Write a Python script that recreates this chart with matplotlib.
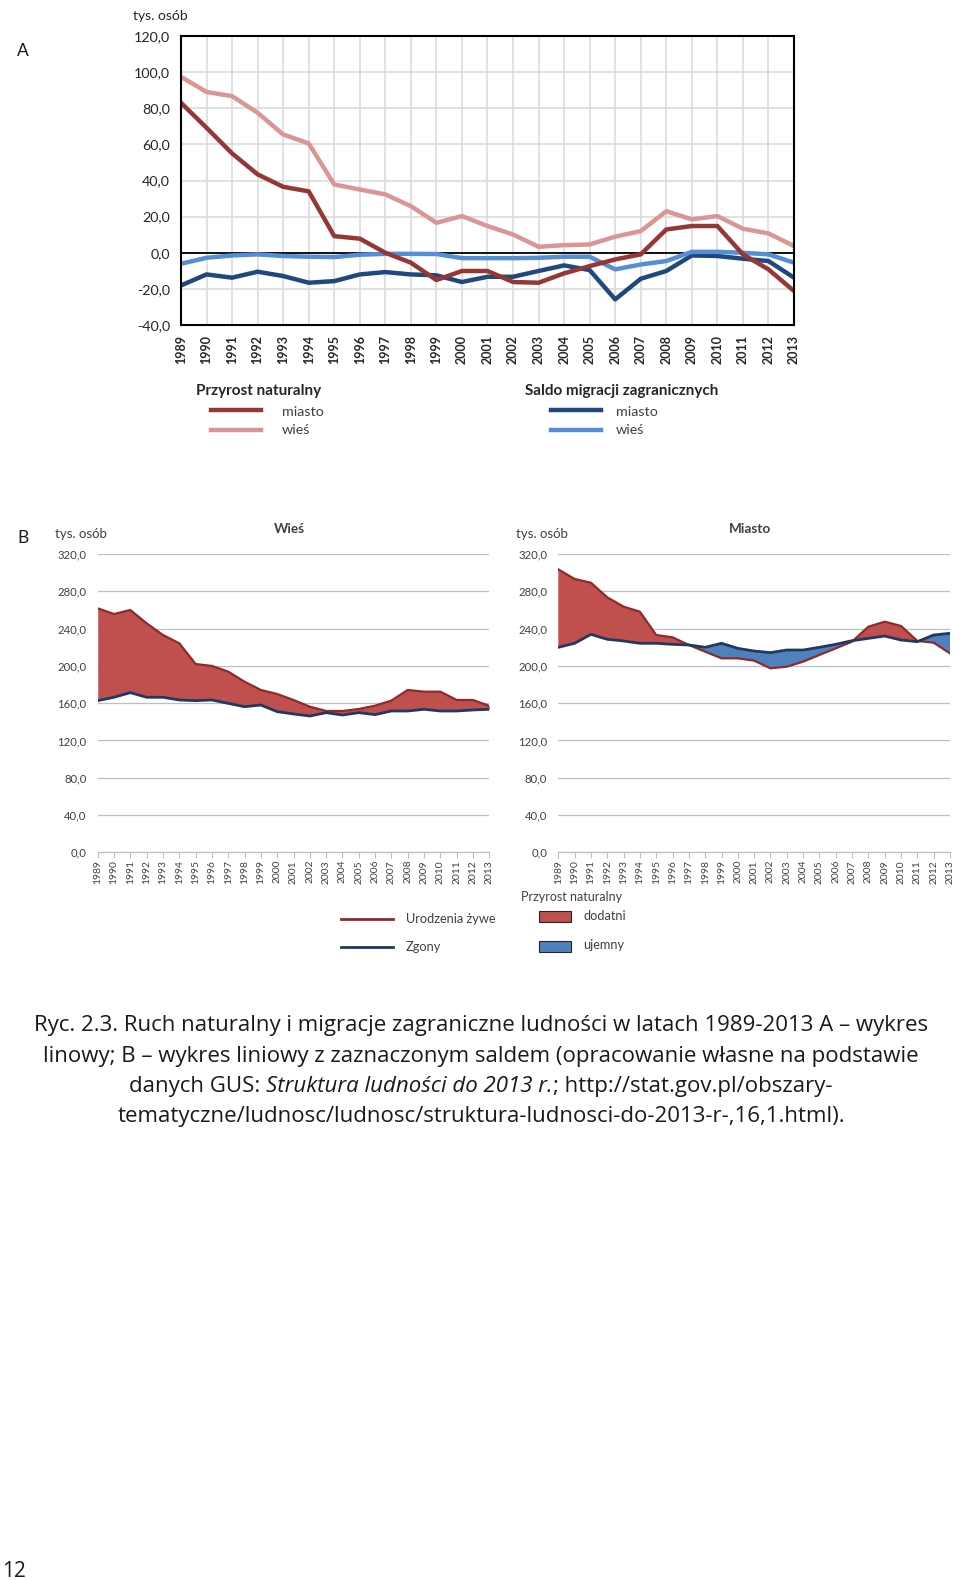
import matplotlib
matplotlib.use("Agg")
import matplotlib.pyplot as plt
import numpy as np

plt.rcParams.update({
    "font.family": ["Lato", "DejaVu Sans"],
    "axes.linewidth": 1.0,
})

W, H = 960, 1580

years = list(range(1989, 2014))

# A: przyrost naturalny / saldo migracji zagranicznych (tys. osob)
pn_miasto = [83.0, 69.2, 55.0, 43.4, 36.5, 34.0, 9.2, 7.8, 0.0, -5.5, -15.1, -10.1,
             -10.1, -16.2, -16.6, -11.4, -7.4, -3.7, -0.9, 12.9, 14.8, 14.8, -0.9, -9.2, -21.2]
pn_wies = [97.4, 89.0, 86.7, 77.5, 65.5, 60.5, 37.8, 35.0, 32.3, 25.8, 16.6, 20.3,
           14.8, 10.1, 3.3, 4.2, 4.6, 8.9, 12.0, 23.0, 18.5, 20.3, 13.3, 10.7, 3.7]
mig_miasto = [-18.1, -12.0, -13.8, -10.5, -12.9, -16.6, -15.7, -12.0, -10.7, -12.0, -12.5, -16.2,
              -13.3, -13.3, -10.1, -7.0, -9.6, -25.8, -14.4, -10.1, -1.5, -1.8, -3.3, -4.6, -13.8]
mig_wies = [-6.1, -2.8, -1.5, -0.9, -1.8, -2.2, -2.4, -1.1, -0.6, -0.6, -0.7, -3.0,
            -3.0, -3.0, -2.8, -2.2, -2.2, -9.2, -6.5, -4.6, 0.5, 0.5, 0.0, -0.9, -5.5]

# B: urodzenia zywe i zgony (tys. osob)
ur_wies = [261.7, 255.6, 259.9, 245.6, 233.1, 224.2, 202.0, 199.9, 193.8, 183.0, 174.1, 169.8,
           163.4, 156.2, 151.6, 151.6, 153.7, 157.3, 162.7, 174.1, 172.3, 172.3, 163.4, 163.4, 157.0]
zg_wies = [162.7, 166.3, 171.3, 166.3, 166.3, 163.4, 162.7, 163.4, 159.8, 156.2, 158.0, 150.9,
           148.4, 146.2, 149.8, 147.3, 149.8, 147.7, 151.6, 151.6, 153.4, 151.6, 151.6, 152.7, 153.4]
ur_miasto = [303.5, 293.2, 289.2, 273.5, 263.5, 258.1, 233.1, 230.6, 222.4, 215.2, 208.1, 208.1,
             205.6, 197.4, 199.1, 204.5, 211.7, 218.8, 226.0, 242.0, 247.4, 242.8, 226.7, 224.9, 213.4]
zg_miasto = [219.9, 224.2, 233.8, 228.5, 226.7, 224.2, 224.2, 223.1, 222.4, 219.9, 224.2, 218.8,
             215.9, 214.2, 217.0, 217.0, 219.9, 223.1, 227.0, 229.5, 232.0, 227.7, 226.0, 233.1, 234.9]

C_PN_M, C_PN_W = "#953735", "#D99694"
C_MG_M, C_MG_W = "#1F497D", "#558ED5"
C_POS, C_NEG = "#C0504D", "#4F81BD"
C_UR, C_ZG = "#8E2A28", "#1F3864"
TXT = "#404040"
CAP_FONT = ["Open Sans", "DejaVu Sans"]


def px_axes(fig, left, top, right, bottom):
    return fig.add_axes([left / W, 1 - bottom / H, (right - left) / W, (bottom - top) / H])


def comma(v):
    return f"{v:.1f}".replace(".", ",")


fig = plt.figure(figsize=(W / 100, H / 100), dpi=100)
fig.patch.set_facecolor("white")

# overlay in pixel units for labels, legends and caption
ov = fig.add_axes([0, 0, 1, 1], zorder=5)
ov.set_xlim(0, W)
ov.set_ylim(H, 0)
ov.axis("off")
ov.patch.set_alpha(0)

# ---------------- A ----------------
axA = px_axes(fig, 181, 36, 794, 325)
axA.plot(years, mig_miasto, color=C_MG_M, lw=3.2, solid_joinstyle="round")
axA.plot(years, mig_wies, color=C_MG_W, lw=3.2, solid_joinstyle="round")
axA.plot(years, pn_wies, color=C_PN_W, lw=3.2, solid_joinstyle="round")
axA.plot(years, pn_miasto, color=C_PN_M, lw=3.2, solid_joinstyle="round")
axA.axhline(0, color="black", lw=1.3, zorder=1)
axA.set_xlim(1989, 2013)
axA.set_ylim(-40, 120)
yt = list(range(-40, 121, 20))
axA.set_yticks(yt)
axA.set_yticklabels([comma(v) for v in yt], fontsize=10.3, color="#262626")
axA.set_xticks(years)
axA.set_xticklabels([str(y) for y in years], rotation=90, fontsize=9,
                    fontweight="bold", color="#262626")
axA.tick_params(length=0)
axA.tick_params(axis="y", pad=8)
axA.tick_params(axis="x", pad=7)
axA.grid(True, color="#D9D9D9", lw=1.1)
axA.set_axisbelow(True)
for s in axA.spines.values():
    s.set_color("black")
    s.set_linewidth(1.5)

ov.text(23, 51, "A", fontsize=12.5, ha="center", va="center", color="#1a1a1a")
ov.text(160, 16, "tys. osób", fontsize=10, ha="center", va="center", color="#262626")

# legend A
ov.text(196, 391, "Przyrost naturalny", fontsize=11, fontweight="bold",
        ha="left", va="center", color="#262626")
ov.plot([211, 261], [410, 410], color=C_PN_M, lw=3.2)
ov.plot([211, 261], [430, 430], color=C_PN_W, lw=3.2)
ov.text(282, 412, "miasto", fontsize=10.3, ha="left", va="center", color=TXT)
ov.text(282, 430, "wieś", fontsize=10.3, ha="left", va="center", color=TXT)
ov.text(525, 391, "Saldo migracji zagranicznych", fontsize=11, fontweight="bold",
        ha="left", va="center", color="#262626")
ov.plot([551, 601], [410, 410], color=C_MG_M, lw=3.2)
ov.plot([551, 601], [430, 430], color=C_MG_W, lw=3.2)
ov.text(616, 412, "miasto", fontsize=10.3, ha="left", va="center", color=TXT)
ov.text(616, 430, "wieś", fontsize=10.3, ha="left", va="center", color=TXT)

# ---------------- B ----------------
ov.text(23, 538, "B", fontsize=12.5, ha="center", va="center", color="#1a1a1a")


def panel_b(ax, ur, zg):
    ur = np.array(ur)
    zg = np.array(zg)
    ax.fill_between(years, ur, zg, where=ur >= zg, interpolate=True,
                    color=C_POS, lw=0, zorder=2)
    ax.fill_between(years, ur, zg, where=ur < zg, interpolate=True,
                    color=C_NEG, lw=0, zorder=2)
    ax.plot(years, ur, color=C_UR, lw=1.6, zorder=3)
    ax.plot(years, zg, color=C_ZG, lw=2.0, zorder=4)
    ax.set_xlim(1989, 2013)
    ax.set_ylim(0, 320)
    yt = list(range(0, 321, 40))
    ax.set_yticks(yt)
    ax.set_yticklabels([comma(v) for v in yt], fontsize=8.2, color=TXT)
    ax.set_xticks(years)
    ax.set_xticklabels([str(y) for y in years], rotation=90, fontsize=7.4, color=TXT)
    ax.tick_params(axis="y", length=0, pad=8)
    ax.tick_params(axis="x", length=4, width=0.8, color="#BFBFBF", pad=1.5)
    ax.grid(True, axis="y", color="#BFBFBF", lw=0.9)
    ax.set_axisbelow(True)
    for k in ("top", "right", "left"):
        ax.spines[k].set_visible(False)
    ax.spines["bottom"].set_color("#BFBFBF")
    ax.spines["bottom"].set_linewidth(0.9)


axBL = px_axes(fig, 97.7, 554, 489.3, 852.3)
panel_b(axBL, ur_wies, zg_wies)
axBR = px_axes(fig, 558.3, 554, 950, 852.3)
panel_b(axBR, ur_miasto, zg_miasto)

ov.text(81, 534, "tys. osób", fontsize=9.5, ha="center", va="center", color=TXT)
ov.text(289, 529, "Wieś", fontsize=9.8, fontweight="bold", ha="center", va="center", color=TXT)
ov.text(542, 534, "tys. osób", fontsize=9.5, ha="center", va="center", color=TXT)
ov.text(750, 529, "Miasto", fontsize=9.8, fontweight="bold", ha="center", va="center", color=TXT)

# legend B
ov.plot([341, 393], [919, 919], color=C_UR, lw=2)
ov.plot([341, 393], [947, 947], color=C_ZG, lw=2)
ov.text(406, 919, "Urodzenia żywe", fontsize=9.2, ha="left", va="center", color=TXT)
ov.text(406, 947, "Zgony", fontsize=9.2, ha="left", va="center", color=TXT)
ov.text(521, 897, "Przyrost naturalny", fontsize=9, ha="left", va="center", color=TXT)
ov.add_patch(plt.Rectangle((539, 911), 32, 11, facecolor=C_POS, edgecolor="#262626", lw=0.8))
ov.add_patch(plt.Rectangle((539, 941), 32, 11, facecolor=C_NEG, edgecolor="#262626", lw=0.8))
ov.text(583, 916, "dodatni", fontsize=9.2, ha="left", va="center", color=TXT)
ov.text(583, 945, "ujemny", fontsize=9.2, ha="left", va="center", color=TXT)

# ---------------- caption ----------------
CAP = 16.0
cap_col = "#1a1a1a"
ov.text(481, 1031, "Ryc. 2.3. Ruch naturalny i migracje zagraniczne ludności w latach 1989-2013 A – wykres",
        fontsize=CAP, family=CAP_FONT, ha="center", va="baseline", color=cap_col)
ov.text(481, 1062, "linowy; B – wykres liniowy z zaznaczonym saldem (opracowanie własne na podstawie",
        fontsize=CAP, family=CAP_FONT, ha="center", va="baseline", color=cap_col)
ov.text(481, 1122, "tematyczne/ludnosc/ludnosc/struktura-ludnosci-do-2013-r-,16,1.html).",
        fontsize=CAP, family=CAP_FONT, ha="center", va="baseline", color=cap_col)

parts = [("danych GUS: ", "normal"), ("Struktura ludności do 2013 r.", "italic"),
         ("; http://stat.gov.pl/obszary-", "normal")]
fig.canvas.draw()
r = fig.canvas.get_renderer()
inv = ov.transData.inverted()
pieces = []
total = 0.0
for s, st in parts:
    t = ov.text(0, 1092, s, fontsize=CAP, family=CAP_FONT, style=st,
                ha="left", va="baseline", color=cap_col)
    bb = t.get_window_extent(r)
    w = inv.transform((bb.x1, 0))[0] - inv.transform((bb.x0, 0))[0]
    pieces.append((t, w))
    total += w
x = 481 - total / 2
for t, w in pieces:
    t.set_x(x)
    x += w

ov.text(2, 1577, "12", fontsize=15, family=CAP_FONT, ha="left", va="baseline", color=cap_col)

fig.savefig("out.png", dpi=100, facecolor="white")
